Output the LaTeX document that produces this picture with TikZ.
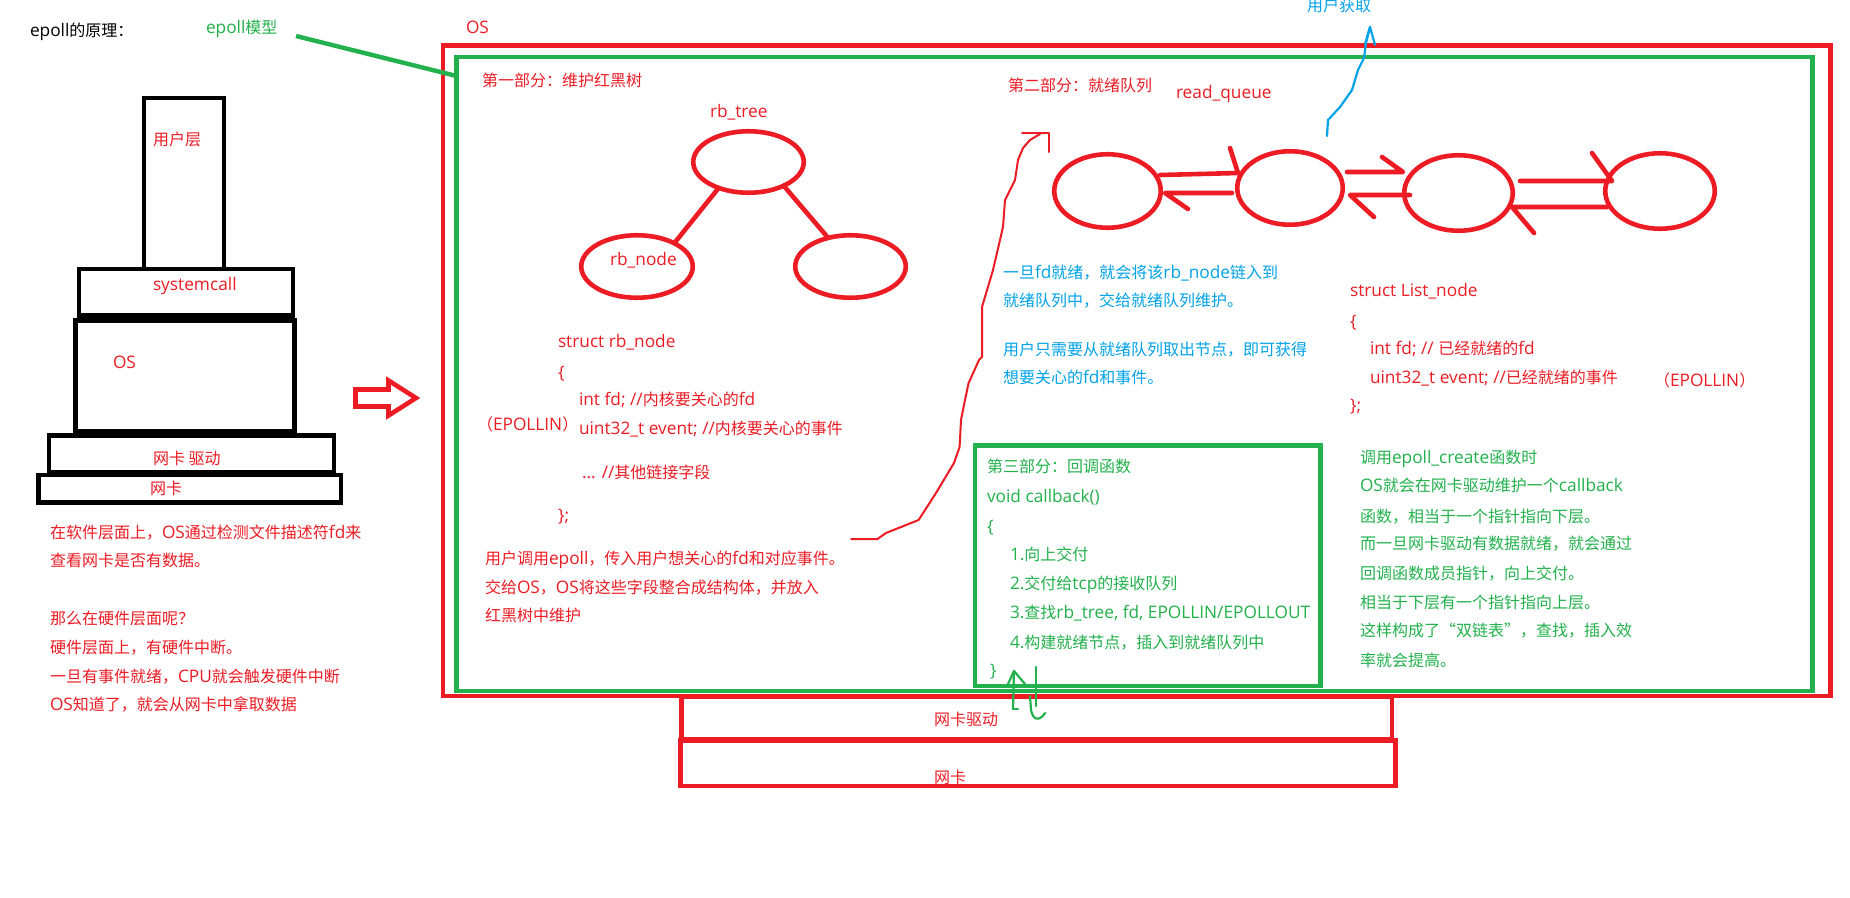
\documentclass[tikz,border=0pt]{standalone}
\usepackage{fontspec}
\setmainfont[Scale=1.08]{Open Sans}
\newfontfamily\latinfont[Scale=1.08]{Open Sans}
\newfontfamily\cjkfont{Noto Sans CJK SC}
\XeTeXinterchartokenstate=1
\chardef\cjkcls=10
\newcount\cjkcc
\def\setcjkrange#1#2{\cjkcc=#1\relax
  \loop\ifnum\cjkcc<#2\relax \XeTeXcharclass\cjkcc=\cjkcls \advance\cjkcc by 1 \repeat}
\setcjkrange{"3000}{"3040}
\setcjkrange{"4E00}{"A000}
\setcjkrange{"FF00}{"FFF0}
\XeTeXcharclass"201C=\cjkcls
\XeTeXcharclass"201D=\cjkcls
\XeTeXinterchartoks 0 \cjkcls = {\cjkfont}
\XeTeXinterchartoks 4095 \cjkcls = {\cjkfont}
\XeTeXinterchartoks \cjkcls 0 = {\latinfont}
\XeTeXinterchartoks 4095 0 = {\latinfont}
\usetikzlibrary{shapes.geometric,calc}
\definecolor{pred}{HTML}{ED1C24}
\definecolor{pgreen}{HTML}{22B14C}
\definecolor{pblue}{HTML}{00A2E8}
\begin{document}
\begin{tikzpicture}[x=1pt,y=-1pt,
  every node/.style={inner sep=0pt,outer sep=0pt},
  txt/.style={anchor=base west,font=\fontsize{16pt}{19pt}\selectfont},
  rtxt/.style={txt,text=pred},
  gtxt/.style={txt,text=pgreen},
  btxt/.style={txt,text=pblue},
  ktxt/.style={txt,text=black},
  blkbox/.style={draw=black,line width=4.4pt},
  redbox/.style={draw=pred,line width=4.6pt},
  grnbox/.style={draw=pgreen,line width=4.6pt},
  rell/.style={ellipse,draw=pred,line width=4.6pt},
  rline/.style={draw=pred,line width=4.6pt,line cap=round,line join=round},
  rpen/.style={draw=pred,line width=2pt,line join=round,line cap=round},
  gpen/.style={draw=pgreen,line width=2.2pt,line join=round,line cap=round},
  bpen/.style={draw=pblue,line width=2.2pt,line join=round,line cap=round},
]
\useasboundingbox[fill=white] (0,0) rectangle (1850,897);

% ---------- titles ----------
\node[ktxt] (title) at (30,36) {epoll的原理：};
\node[gtxt] (model) at (206,33) {epoll模型};
\node[rtxt] (oslabel) at (466,33) {OS};

% ---------- black tower ----------
\node[blkbox,minimum width=80.3,minimum height=170.9] (user) at (183.85,183.25) {};
\node[blkbox,minimum width=214.3,minimum height=46.8] (syscall) at (185.85,292.1) {};
\node[blkbox,minimum width=218.8,minimum height=110.8] (osblk) at (184.9,375.9) {};
\node[blkbox,minimum width=285,minimum height=36.5] (drvblk) at (191.3,453.75) {};
\node[blkbox,minimum width=302.9,minimum height=27.5] (nicblk) at (189.75,488.75) {};
\node[rtxt] (tuser) at (153,145) {用户层};
\node[rtxt] (tsys) at (153,290) {systemcall};
\node[rtxt] (tos) at (113,368) {OS};
\node[rtxt] (tdrv) at (153,464) {网卡 驱动};
\node[rtxt] (tnic) at (150,494) {网卡};

% ---------- left paragraph ----------
\node[rtxt] (l1) at (50,538) {在软件层面上，OS通过检测文件描述符fd来};
\node[rtxt] (l2) at (50,566) {查看网卡是否有数据。};
\node[rtxt] (l3) at (50,624) {那么在硬件层面呢？};
\node[rtxt] (l4) at (50,653) {硬件层面上，有硬件中断。};
\node[rtxt] (l5) at (50,682) {一旦有事件就绪，CPU就会触发硬件中断};
\node[rtxt] (l6) at (50,710) {OS知道了，就会从网卡中拿取数据};

% ---------- hollow arrow ----------
\draw[pred,line width=4.6pt,line join=miter]
  (355.5,389.5) -- (388.5,389.5) -- (388.5,380.5) -- (416,398)
  -- (388.5,415.5) -- (388.5,406.5) -- (355.5,406.5) -- cycle;

% ---------- OS boxes ----------
\node[redbox,minimum width=1387.5,minimum height=650.7] (osbox) at (1136.75,370.65) {};
\node[grnbox,minimum width=1356,minimum height=634] (gbox) at (1134.5,374) {};
\draw[draw=pgreen,line width=4.4pt] (296,36) -- ([yshift=-19pt]gbox.north west);

% ---------- part 1: rb tree ----------
\node[rtxt] (p1) at (482,86) {第一部分：维护红黑树};
\node[rtxt] (rbtree) at (710,117) {rb\_tree};
\node[rell,minimum width=110.5,minimum height=61.5] (top) at (748.5,162) {};
\node[rell,minimum width=111.5,minimum height=62.5] (lchild) at (637,266.5) {};
\node[rell,minimum width=110.5,minimum height=62.5] (rchild) at (850.5,266.5) {};
\draw[rline] (top.221) -- (lchild.32);
\draw[rline] (top.326) -- (rchild.128);
\node[rtxt] (rbnode) at (610,265) {rb\_node};

\node[rtxt] (s1) at (558,347) {struct rb\_node};
\node[rtxt] (s2) at (558,378) {\{};
\node[rtxt] (s3) at (579,405) {int fd; //内核要关心的fd};
\node[rtxt] (s4) at (477,430) {（EPOLLIN）};
\node[rtxt] (s5) at (579,434) {uint32\_t event; //内核要关心的事件};
\node[rtxt] (s6) at (582,478) {... //其他链接字段};
\node[rtxt] (s7) at (558,521) {\};};
\node[rtxt] (u1) at (485,564) {用户调用epoll，传入用户想关心的fd和对应事件。};
\node[rtxt] (u2) at (485,593) {交给OS，OS将这些字段整合成结构体，并放入};
\node[rtxt] (u3) at (485,621) {红黑树中维护};

% ---------- hand drawn link line ----------
\coordinate (hstart) at (851,539);
\coordinate (hend) at (1040,134);
\draw[rpen] (hstart) -- (877.5,539) -- (886,533) -- (918.6,520) -- (936,493)
  -- (954,463) -- (959.6,447) -- (961,420) -- (965,400) -- (968.6,383)
  -- (979,360) -- (982,357) -- (982,307) -- (993,270) -- (1003,227)
  -- (1005,200) -- (1015,180) -- (1018,160) -- (1023,148) -- (1030,140) -- (hend);
\draw[rpen] (1022,133) -- (1049,133) -- (1049,152);

% ---------- part 2: ready queue ----------
\node[rtxt] (p2) at (1008,91) {第二部分：就绪队列};
\node[rtxt] (rq) at (1176,98) {read\_queue};
\node[rell,minimum width=106.5,minimum height=73.5] (c1) at (1107.5,191) {};
\node[rell,minimum width=105.5,minimum height=73.5] (c2) at (1290,188) {};
\node[rell,minimum width=108.5,minimum height=75.5] (c3) at (1458.5,193) {};
\node[rell,minimum width=109.5,minimum height=75.5] (c4) at (1660,191) {};
\draw[rline] ([shift={(52.5,-16)}]c1.center) -- ([shift={(-52,-15)}]c2.center) -- ++(-8,-25);
\draw[rline] ([shift={(-58,5)}]c2.center) -- ([shift={(57.5,2)}]c1.center) -- ++(23,16);
\draw[rline] ([shift={(57,-16)}]c2.center) -- ([shift={(-55.5,-21)}]c3.center) -- ++(-21,-15);
\draw[rline] ([shift={(-48.5,2)}]c3.center) -- ([shift={(60,7)}]c2.center) -- ++(24,22);
\draw[rline] ([shift={(61.5,-12)}]c3.center) -- ([shift={(-48,-10)}]c4.center) -- ++(-20,-28);
\draw[rline] ([shift={(-53,16)}]c4.center) -- ([shift={(53.5,14)}]c3.center) -- ++(22,26);

% user fetch arrow
\node[btxt] (fetch) at (1307,11) {用户获取};
\coordinate (ftip) at (1370,27);
\draw[bpen] (1327,136) -- (1328,120) -- (1340,107) -- (1352,90) -- (1358,70)
  -- (1364,58) -- (1366,43) -- (ftip);
\draw[bpen] (1365,44) -- (ftip) -- (1375,45);

\node[btxt] (b1) at (1003,278) {一旦fd就绪，就会将该rb\_node链入到};
\node[btxt] (b2) at (1003,306) {就绪队列中，交给就绪队列维护。};
\node[btxt] (b3) at (1003,355) {用户只需要从就绪队列取出节点，即可获得};
\node[btxt] (b4) at (1003,383) {想要关心的fd和事件。};

\node[rtxt] (q1) at (1350,296) {struct List\_node};
\node[rtxt] (q2) at (1350,327) {\{};
\node[rtxt] (q3) at (1370,354) {int fd; // 已经就绪的fd};
\node[rtxt] (q4) at (1370,383) {uint32\_t event; //已经就绪的事件};
\node[rtxt] (q5) at (1654,386) {（EPOLLIN）};
\node[rtxt] (q6) at (1350,411) {\};};

% ---------- part 3: callback ----------
\node[grnbox,minimum width=345.5,minimum height=240.5] (cbbox) at (1147.75,565.75) {};
\node[gtxt] (k1) at (987,472) {第三部分：回调函数};
\node[gtxt] (k2) at (987,502) {void callback()};
\node[gtxt] (k3) at (987,532) {\{};
\node[gtxt] (k4) at (1010,560) {1.向上交付};
\node[gtxt] (k5) at (1010,589) {2.交付给tcp的接收队列};
\node[gtxt] (k6) at (1010,618) {3.查找rb\_tree, fd, EPOLLIN/EPOLLOUT};
\node[gtxt] (k7) at (1010,648) {4.构建就绪节点，插入到就绪队列中};
\node[gtxt] (k8) at (990,676) {\}};

\node[gtxt] (r1) at (1360,463) {调用epoll\_create函数时};
\node[gtxt] (r2) at (1360,491) {OS就会在网卡驱动维护一个callback};
\node[gtxt] (r3) at (1360,522) {函数，相当于一个指针指向下层。};
\node[gtxt] (r4) at (1360,549) {而一旦网卡驱动有数据就绪，就会通过};
\node[gtxt] (r5) at (1360,579) {回调函数成员指针，向上交付。};
\node[gtxt] (r6) at (1360,608) {相当于下层有一个指针指向上层。};
\node[gtxt] (r7) at (1360,636) {这样构成了“双链表”，查找，插入效};
\node[gtxt] (r8) at (1360,666) {率就会提高。};

% ---------- bottom driver / NIC ----------
\node[redbox,minimum width=710.5,minimum height=42] (drv) at (1036.75,718) {};
\node[redbox,minimum width=715,minimum height=45.5] (nic) at (1038,763.25) {};
\node[rtxt] (tdrv2) at (934,725) {网卡驱动};
\node[rtxt] (tnic2) at (934,783) {网卡};

% green squiggles
\draw[gpen] (1013,709) -- (1014,671);
\draw[gpen] (1008,684) -- (1014,671) -- (1025,684);
\draw[gpen] (1013,709) -- (1018,709);
\draw[gpen] (1036,667) -- (1036,706);
\draw[gpen] (1030,696) -- (1031,710) .. controls (1033,721) and (1040,721) .. (1045,713);
\end{tikzpicture}
\end{document}
